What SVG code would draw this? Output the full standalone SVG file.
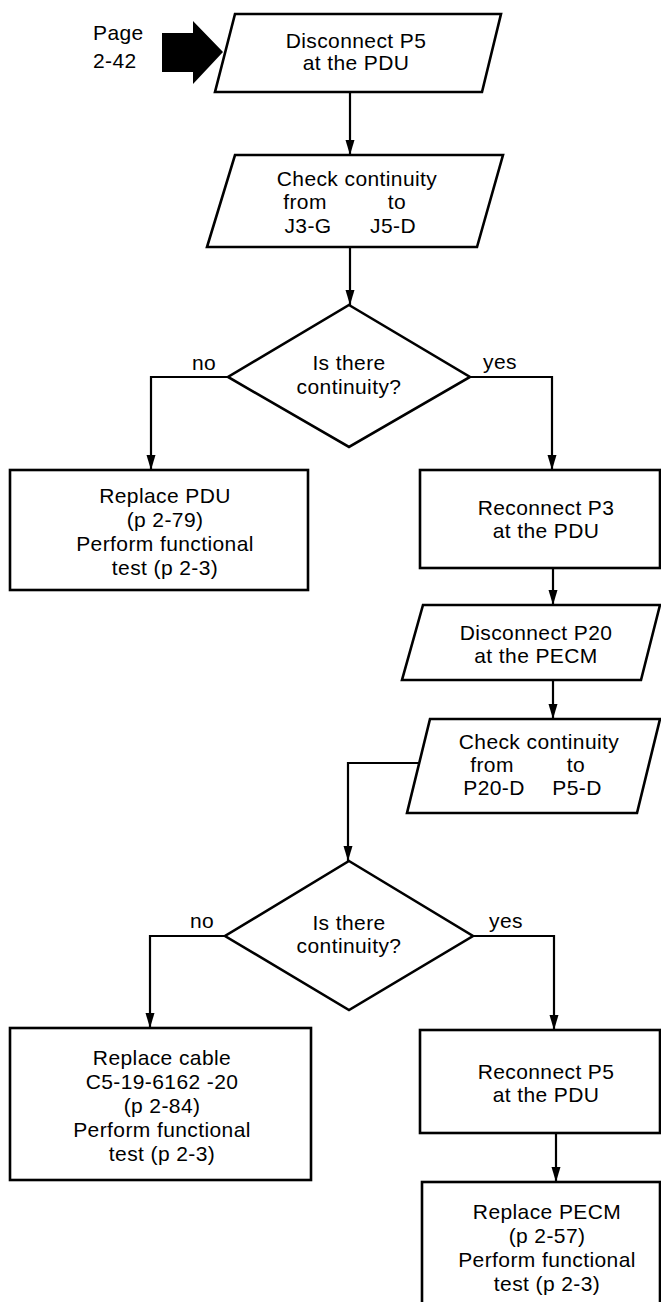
<svg xmlns="http://www.w3.org/2000/svg" width="661" height="1302" viewBox="0 0 661 1302">
<style>
.s{fill:#fff;stroke:#000;stroke-width:2.6;stroke-linejoin:miter}
.c{fill:none;stroke:#000;stroke-width:2.2}
text{font-family:"Liberation Sans",Arial,Helvetica,sans-serif;font-size:21px;fill:#000;letter-spacing:0.4px}
.m{text-anchor:middle}
</style>
<defs>
<marker id="a" markerUnits="userSpaceOnUse" viewBox="0 -5 15 10" refX="15" refY="0" markerWidth="15" markerHeight="10" orient="auto"><path d="M0,-4.5 L15,0 L0,4.5 z" fill="#000"/></marker>
</defs>
<rect width="661" height="1302" fill="#fff"/>
<g id="entry">
<text x="93" y="40">Page</text>
<text x="93" y="68">2-42</text>
<path d="M162,33 H193 V21 L223,52 L193,84 V72 H162 Z" fill="#000"/>
</g>
<g id="connectors">
<path class="c" d="M350,92 V155" marker-end="url(#a)"/>
<path class="c" d="M350,247 V305" marker-end="url(#a)"/>
<path class="c" d="M228,377 H151 V470" marker-end="url(#a)"/>
<path class="c" d="M470,377 H552 V470" marker-end="url(#a)"/>
<path class="c" d="M553,568 V605" marker-end="url(#a)"/>
<path class="c" d="M553,680 V719" marker-end="url(#a)"/>
<path class="c" d="M419,763 H348 V861" marker-end="url(#a)"/>
<path class="c" d="M225,936 H150 V1028" marker-end="url(#a)"/>
<path class="c" d="M473,936 H554 V1030" marker-end="url(#a)"/>
<path class="c" d="M556,1133 V1182" marker-end="url(#a)"/>
</g>
<g id="lbl-no1"><text class="m" x="204" y="370">no</text></g>
<g id="lbl-yes1"><text class="m" x="500" y="369">yes</text></g>
<g id="lbl-no2"><text class="m" x="202" y="928">no</text></g>
<g id="lbl-yes2"><text class="m" x="506" y="928">yes</text></g>
<g id="n1">
<polygon class="s" points="235,14 501,14 482,92 215,92"/>
<text class="m" x="356" y="48">Disconnect P5</text>
<text class="m" x="356" y="70">at the PDU</text>
</g>
<g id="n2">
<polygon class="s" points="235,155 503,155 477,247 207,247"/>
<text class="m" x="357" y="186">Check continuity</text>
<text class="m" x="305" y="209">from</text>
<text class="m" x="397" y="209">to</text>
<text class="m" x="308" y="233">J3-G</text>
<text class="m" x="393" y="233">J5-D</text>
</g>
<g id="d1">
<polygon class="s" points="349,305 470,377 349,447 228,377"/>
<text class="m" x="349" y="370">Is there</text>
<text class="m" x="349" y="394">continuity?</text>
</g>
<g id="n3">
<rect class="s" x="10" y="470" width="298" height="120"/>
<text class="m" x="165" y="503">Replace PDU</text>
<text class="m" x="165" y="527">(p 2-79)</text>
<text class="m" x="165" y="551">Perform functional</text>
<text class="m" x="165" y="575">test (p 2-3)</text>
</g>
<g id="n4">
<rect class="s" x="420" y="470" width="240" height="98"/>
<text class="m" x="546" y="515">Reconnect P3</text>
<text class="m" x="546" y="538">at the PDU</text>
</g>
<g id="n5">
<polygon class="s" points="423,605 660,605 641,680 402,680"/>
<text class="m" x="536" y="640">Disconnect P20</text>
<text class="m" x="536" y="663">at the PECM</text>
</g>
<g id="n6">
<polygon class="s" points="430,719 660,719 637,813 407,813"/>
<text class="m" x="539" y="749">Check continuity</text>
<text class="m" x="492" y="772">from</text>
<text class="m" x="576" y="772">to</text>
<text class="m" x="494" y="795">P20-D</text>
<text class="m" x="577" y="795">P5-D</text>
</g>
<g id="d2">
<polygon class="s" points="349,861 473,936 349,1010 225,936"/>
<text class="m" x="349" y="930">Is there</text>
<text class="m" x="349" y="953">continuity?</text>
</g>
<g id="n7">
<rect class="s" x="10" y="1028" width="301" height="152"/>
<text class="m" x="162" y="1065">Replace cable</text>
<text class="m" x="162" y="1089">C5-19-6162 -20</text>
<text class="m" x="162" y="1113">(p 2-84)</text>
<text class="m" x="162" y="1137">Perform functional</text>
<text class="m" x="162" y="1161">test (p 2-3)</text>
</g>
<g id="n8">
<rect class="s" x="420" y="1030" width="240" height="103"/>
<text class="m" x="546" y="1079">Reconnect P5</text>
<text class="m" x="546" y="1102">at the PDU</text>
</g>
<g id="n9">
<rect class="s" x="422" y="1182" width="238" height="140"/>
<text class="m" x="547" y="1219">Replace PECM</text>
<text class="m" x="547" y="1243">(p 2-57)</text>
<text class="m" x="547" y="1267">Perform functional</text>
<text class="m" x="547" y="1291">test (p 2-3)</text>
</g>
</svg>
